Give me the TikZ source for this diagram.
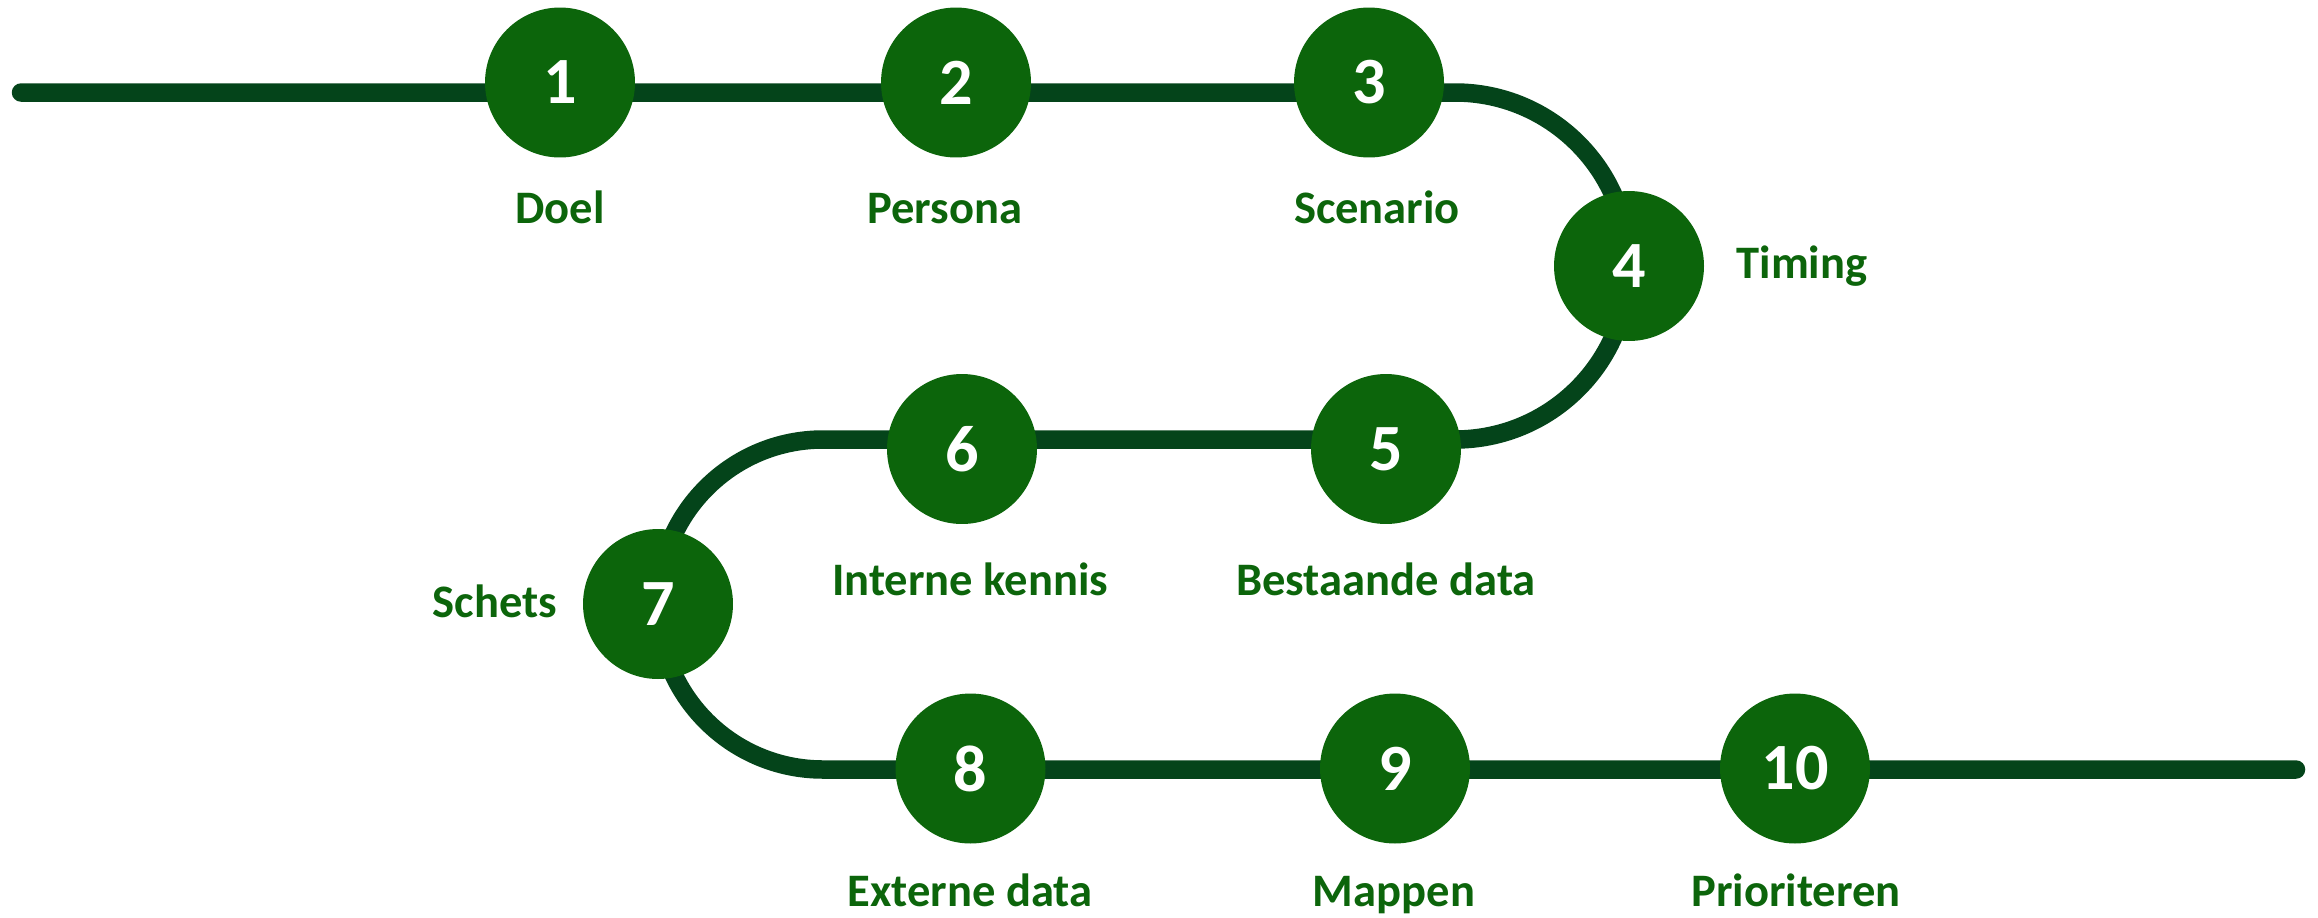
\documentclass[tikz,border=0pt]{standalone}
\usepackage{fontspec}
\setmainfont{Carlito}
\usetikzlibrary{positioning}
\definecolor{stepgreen}{RGB}{12,101,11}
\definecolor{trackgreen}{RGB}{4,68,26}
\tikzset{
     stepnode/.style  = {circle, fill=stepgreen, text=white, minimum size=3cm, inner sep=0pt,
                         font=\bfseries\fontsize{37.6}{40}\selectfont},
     steplabel/.style = {text=stepgreen, anchor=base, inner sep=0pt,
                         font=\bfseries\fontsize{26.5}{30}\selectfont},
     track/.style     = {trackgreen, line width=0.37cm, line cap=round, line join=round},
    }

\begin{document}
\begin{tikzpicture}[x=0.02cm, y=-0.02cm]
            \useasboundingbox (0,0) rectangle (2318,917);

            % track
            \coordinate (tstart) at (21,92.5);
            \coordinate (tturn)  at (1455,92.5);
            \coordinate (mturn)  at (823,439.5);
            \coordinate (tend)   at (2296,769.5);
            \draw [track] (tstart) -- (tturn)
                  arc[start angle=-90, end angle=90, radius=173.5] -- (mturn)
                  arc[start angle=-90, end angle=-270, radius=165] -- (tend);

            % steps
            \node [stepnode] (s1)  at (560,82.5)   {1};
            \node [stepnode] (s2)  at (956,82.5)   {2};
            \node [stepnode] (s3)  at (1369,82.5)  {3};
            \node [stepnode] (s4)  at (1629,266)   {4};
            \node [stepnode] (s5)  at (1386,449)   {5};
            \node [stepnode] (s6)  at (962,449)    {6};
            \node [stepnode] (s7)  at (658,604)    {7};
            \node [stepnode] (s8)  at (970.5,768.5) {8};
            \node [stepnode] (s9)  at (1395,768.5) {9};
            \node [stepnode] (s10) at (1795,768.5) {10};

            % labels
            \node [steplabel] (l1)  at (560,223)  {Doel};
            \node [steplabel] (l2)  at (945,223)  {Persona};
            \node [steplabel] (l3)  at (1377,223) {Scenario};
            \node [steplabel] (l4)  at (1802,278) {Timing};
            \node [steplabel] (l5)  at (1386,595) {Bestaande data};
            \node [steplabel] (l6)  at (970,595)  {Interne kennis};
            \node [steplabel] (l7)  at (495,617)  {Schets};
            \node [steplabel] (l8)  at (970,906)  {Externe data};
            \node [steplabel] (l9)  at (1394,906) {Mappen};
            \node [steplabel] (l10) at (1796,906) {Prioriteren};
      \end{tikzpicture}
\end{document}
